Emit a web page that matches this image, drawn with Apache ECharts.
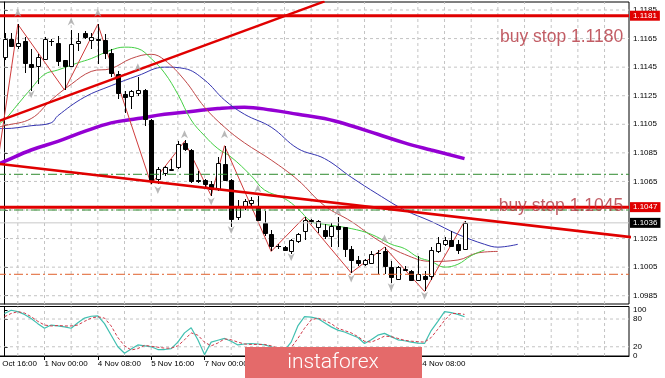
<!DOCTYPE html>
<html><head><meta charset="utf-8">
<script src="https://cdn.jsdelivr.net/npm/echarts@6/dist/echarts.min.js"></script>
<style>html,body{margin:0;padding:0;background:#fff;overflow:hidden}#c{position:absolute;left:-20px;top:0;width:685px;height:378px}</style>
</head><body><div id="c"></div>
<script>
// ---------- DATA ----------
const timeTicks  = [-2, 6, 14, 22, 30, 38, 46, 54, 62];
const timeLabels = ['30 Oct 16:00','1 Nov 00:00','4 Nov 08:00','5 Nov 16:00','7 Nov 00:00','8 Nov 08:00','11 Nov 16:00','13 Nov 00:00','14 Nov 08:00'];
const priceTicks = [1.0985,1.1005,1.1025,1.1045,1.1065,1.1085,1.1105,1.1125,1.1145,1.1165,1.1185];
const stochTicks = [0, 20, 80, 100];
const stochLevels = [20, 80];
const markPrices = [1.1181, 1.1047, 1.1036];

const opens  = [1.1152,1.1165,1.1160,1.1163,1.1147,1.1146,1.1151,1.1163,1.1162,1.1150,1.1146,1.1162,1.1169,1.1164,1.1165,1.1164,1.1155,1.1140,1.1126,1.1125,1.1127,1.1129,1.1108,1.1067,1.1071,1.1073,1.1075,1.1092,1.1087,1.1066,1.1066,1.1063,1.1060,1.1077,1.1066,1.1040,1.1047,1.1050,1.1048,1.1036,1.1028,1.1020,1.1019,1.1016,1.1023,1.1030,1.1038,1.1033,1.1031,1.1027,1.1034,1.1033,1.1018,1.1010,1.1007,1.1008,1.1015,1.1016,1.1005,1.0997,1.1004,1.1002,1.0996,1.0999,1.0999,1.1016,1.1021,1.1024,1.1021,1.1018];
const closes = [1.1165,1.1160,1.1162,1.1148,1.1145,1.1152,1.1165,1.1163,1.1149,1.1146,1.1161,1.1163,1.1166,1.1166,1.1164,1.1155,1.1141,1.1127,1.1124,1.1128,1.1129,1.1109,1.1066,1.1074,1.1075,1.1074,1.1091,1.1088,1.1065,1.1065,1.1063,1.1060,1.1078,1.1066,1.1039,1.1048,1.1051,1.1052,1.1038,1.1029,1.1020,1.1020,1.1017,1.1024,1.1028,1.1038,1.1037,1.1037,1.1027,1.1034,1.1032,1.1018,1.1010,1.1008,1.1010,1.1014,1.1015,1.1006,1.0998,1.1005,1.1003,1.0996,1.1000,1.0997,1.1017,1.1022,1.1024,1.1020,1.1017,1.1036];
const lows   = [1.1150,1.1159,1.1158,1.1141,1.1128,1.1133,1.1150,1.1160,1.1146,1.1129,1.1145,1.1156,1.1165,1.1158,1.1147,1.1151,1.1138,1.1123,1.1113,1.1116,1.1125,1.1104,1.1063,1.1063,1.1069,1.1072,1.1074,1.1086,1.1064,1.1064,1.1061,1.1055,1.1058,1.1065,1.1033,1.1038,1.1045,1.1048,1.1037,1.1027,1.1016,1.1018,1.1016,1.1014,1.1022,1.1024,1.1035,1.1029,1.1025,1.1019,1.1019,1.1012,1.1001,1.1006,1.1006,1.1007,1.1000,1.1000,1.0994,1.0996,1.1002,1.0995,1.0995,1.0988,1.0996,1.1015,1.1020,1.1019,1.1014,1.1017];
const highs  = [1.1169,1.1169,1.1175,1.1166,1.1158,1.1154,1.1166,1.1165,1.1167,1.1150,1.1171,1.1169,1.1170,1.1169,1.1175,1.1168,1.1158,1.1142,1.1128,1.1129,1.1138,1.1130,1.1109,1.1075,1.1076,1.1081,1.1093,1.1094,1.1088,1.1072,1.1067,1.1065,1.1082,1.1090,1.1067,1.1052,1.1053,1.1054,1.1055,1.1044,1.1031,1.1021,1.1020,1.1025,1.1029,1.1040,1.1039,1.1038,1.1035,1.1036,1.1040,1.1033,1.1020,1.1013,1.1011,1.1016,1.1017,1.1019,1.1009,1.1006,1.1006,1.1003,1.1013,1.1002,1.1019,1.1026,1.1026,1.1030,1.1024,1.1037];

const maPurple = [[-1,1.1077],[0,1.1079],[4,1.1087],[8,1.1093],[12,1.1100],[16,1.1106],[20,1.1109],[24,1.1112],[28,1.1114],[32,1.1116],[36,1.1117],[40,1.1115],[44,1.1112],[48,1.1109],[52,1.1104],[56,1.1098],[60,1.1092],[64,1.1087],[69,1.1081]];
const maBlue   = [[-1,1.1102],[0,1.1102],[4,1.1104],[7,1.1106],[8,1.1111],[12,1.1124],[16,1.1132],[20,1.1139],[24,1.1145],[27,1.1144],[30,1.1136],[33,1.1122],[36,1.1112],[40,1.1103],[44,1.1088],[48,1.1081],[52,1.1068],[56,1.1056],[60,1.1045],[64,1.1037],[68,1.1028],[72,1.1021],[74,1.1019],[77,1.1021]];
const maRed    = [[-1,1.1103],[0,1.1104],[4,1.1109],[7,1.1122],[10,1.1133],[13,1.1142],[16,1.1144],[19,1.1151],[22,1.1154],[24,1.1150],[27,1.1136],[30,1.1117],[33,1.1103],[36,1.1092],[40,1.1080],[44,1.1066],[48,1.1048],[52,1.1037],[56,1.1024],[60,1.1014],[64,1.1009],[68,1.1010],[71,1.1015],[74,1.1016]];
const maGreen  = [[-1,1.1105],[0,1.1108],[2,1.1119],[4,1.1130],[6,1.1140],[8,1.1143],[11,1.1148],[13,1.1151],[16,1.1157],[18,1.1159],[20,1.1158],[22,1.1151],[24,1.1141],[26,1.1126],[28,1.1108],[30,1.1097],[32,1.1088],[34,1.1082],[37,1.1069],[39,1.1059],[42,1.1053],[44,1.1046],[46,1.1037],[48,1.1035],[52,1.1032],[55,1.1028],[58,1.1021],[60,1.1018],[62,1.1012],[64,1.1009],[66,1.1005],[68,1.1007],[70,1.1013],[72,1.1017]];
const zigzag   = [[-1,1.1079],[2,1.1175],[9,1.1129],[14,1.1175],[22,1.1063],[27,1.1093],[31,1.1055],[33,1.1090],[40,1.1016],[45,1.1040],[52,1.1001],[57,1.1019],[63,1.0988],[69,1.1037]];
const fractalUp   = [[2,1.1183],[10,1.1177],[14,1.1183],[20,1.1145],[27,1.1098],[33,1.1098],[38,1.1060],[50,1.1044],[57,1.1025]];
const fractalDown = [[4,1.1126],[23,1.1059],[31,1.1051],[34,1.1031],[43,1.1012],[52,1.0997],[58,1.0991],[63,1.0985]];
const trendUp   = [[-1,1.1107],[48,1.1191]];
const trendDown = [[-1,1.10774],[94,1.1026]];
const levelRed    = [1.1181, 1.1047];
const levelGreen  = [1.1070, 1.1045];
const levelOrange = [1.1000];
const bidPrice    = 1.1036;
const orderTexts  = ['buy stop 1.1180', 'buy stop 1.1045'];
const orderAnchors = [[92.8,1.1166],[92.8,1.1048]];

const stochMain   = [92,99,96,90,81,70,60,67,65,63,60,72,82,86,87,70,45,20,6,15,24,22,20,14,14,16,30,50,61,35,3,30,34,38,32,24,26,27,26,24,20,15,12,30,65,85,84,81,72,63,56,52,46,40,27,35,45,49,42,35,33,30,28,27,55,75,96,94,90,85];
const stochSignal = [85,92,96,93,85,75,67,65,66,65,65,67,75,82,85,82,65,40,22,13,16,23,21,19,17,17,22,35,50,45,30,22,28,37,35,30,26,25,25,25,22,17,14,18,38,60,78,82,77,70,60,55,50,42,32,30,36,43,42,38,34,32,31,30,40,58,77,92,92,90];

// ---------- CHART ----------
const X_MIN = -3.675, X_MAX = 93.67;
const Y_MIN = 1.09792, Y_MAX = 1.11906;
const S_MIN = 0, S_MAX = 107.1;
const FONT = 'Liberation Sans, Arial, sans-serif';

const candleData = opens.map((o, i) => [i, o, closes[i], lows[i], highs[i]]);
const vGridVals = [];
for (let v = 2; v < X_MAX; v += 4) vGridVals.push(v);

function renderCandle(params, api) {
  const i = api.value(0), o = api.value(1), c = api.value(2), l = api.value(3), h = api.value(4);
  const pO = api.coord([i, o]), pC = api.coord([i, c]), pL = api.coord([i, l]), pH = api.coord([i, h]);
  const w = Math.round(api.size([1, 0])[0] * 0.6);
  const x = Math.round(pO[0]) + 0.5;
  const top = Math.round(Math.min(pO[1], pC[1])) + 0.5, bot = Math.round(Math.max(pO[1], pC[1])) + 0.5;
  const bull = c >= o;
  const children = [{type:'line', shape:{x1:x, y1:Math.round(pH[1]), x2:x, y2:Math.round(pL[1])}, style:{stroke:'#000', lineWidth:1}}];
  if (bot - top < 1) {
    children.push({type:'line', shape:{x1:x - w/2 - 0.5, y1:top, x2:x + w/2 + 0.5, y2:top}, style:{stroke:'#000', lineWidth:1}});
  } else {
    children.push({type:'rect', shape:{x:x - w/2, y:top, width:w, height:bot - top}, style:{fill: bull ? '#fff' : '#000', stroke:'#000', lineWidth:1}});
  }
  return {type:'group', children};
}

function priceBox(v) {
  for (let k = 0; k < markPrices.length; k++) {
    if (Math.abs(v - markPrices[k]) < 1e-6) return '{' + (k < 2 ? 'r' : 'k') + '|' + markPrices[k].toFixed(4) + '}';
  }
  return '';
}

function ln(xi, yi, data, style, z, smooth) {
  return {type:'line', xAxisIndex:xi, yAxisIndex:yi, data, showSymbol:false, silent:true, animation:false,
    smooth: smooth || false, z, lineStyle: style};
}
const gridStyle = {color:'#c4c4c4', type:[3,3], width:1};
const series = [];
// grid lines
vGridVals.forEach(v => {
  series.push(ln(0, 0, [[v, Y_MIN], [v, Y_MAX]], gridStyle, 1));
  series.push(ln(1, 2, [[v, S_MIN], [v, S_MAX]], gridStyle, 1));
});
priceTicks.forEach(v => series.push(ln(0, 0, [[X_MIN, v], [X_MAX, v]], gridStyle, 1)));
stochLevels.forEach(v => series.push(ln(1, 2, [[X_MIN, v], [X_MAX, v]], gridStyle, 1)));
// moving averages
series.push(ln(0, 0, maPurple, {color:'#9400d3', width:3.5}, 2, 0.4));
series.push(ln(0, 0, maBlue,   {color:'#3434b0', width:1}, 2, 0.4));
series.push(ln(0, 0, maRed,    {color:'#c04848', width:1}, 2, 0.4));
series.push(ln(0, 0, maGreen,  {color:'#44d044', width:1}, 2, 0.4));
// zigzag
series.push(ln(0, 0, zigzag, {color:'#d03c3c', width:1}, 3));
// candles
series.push({type:'custom', xAxisIndex:0, yAxisIndex:0, data:candleData, renderItem:renderCandle, z:4, silent:true,
  encode:{x:0, y:[1,2,3,4]}});
// horizontal levels
series.push(ln(0, 0, [[X_MIN, bidPrice], [X_MAX, bidPrice]], {color:'#c8c8c8', width:1}, 5));
levelGreen.forEach(v => series.push(ln(0, 0, [[X_MIN, v], [X_MAX, v]], {color:'#2f8a2f', width:1, type:[9,3,2,3]}, 5)));
levelOrange.forEach(v => series.push(ln(0, 0, [[X_MIN, v], [X_MAX, v]], {color:'#e0602c', width:1, type:[9,3,2,3]}, 5)));
levelRed.forEach(v => series.push(ln(0, 0, [[X_MIN, v], [X_MAX, v]], {color:'#e00000', width:3}, 5)));
// trend lines
series.push(ln(0, 0, trendUp,   {color:'#e00000', width:2.5}, 5));
series.push(ln(0, 0, trendDown, {color:'#e00000', width:2.5}, 5));
// fractals
series.push({type:'scatter', xAxisIndex:0, yAxisIndex:0, data:fractalUp, z:6, silent:true,
  symbol:'path://M5,0 L10,10 L5,7 L0,10 Z', symbolSize:[7,8], itemStyle:{color:'#a8a8a8'}});
series.push({type:'scatter', xAxisIndex:0, yAxisIndex:0, data:fractalDown, z:6, silent:true,
  symbol:'path://M5,0 L10,10 L5,7 L0,10 Z', symbolRotate:180, symbolSize:[7,8], itemStyle:{color:'#a8a8a8'}});
// order texts
series.push({type:'scatter', xAxisIndex:0, yAxisIndex:0, z:7, silent:true, symbolSize:1, itemStyle:{color:'rgba(0,0,0,0)'},
  data: orderAnchors.map((p, k) => ({value:p, name:orderTexts[k]})),
  label:{show:true, position:'inside', align:'right', verticalAlign:'middle', formatter: p => p.name,
    color:'#b3343f', fontSize:17.5, fontFamily:FONT}});
// stochastic
series.push(ln(1, 2, stochMain.map((v,i)=>[i,v]),   {color:'#40bfb0', width:1.2}, 3));
series.push(ln(1, 2, stochSignal.map((v,i)=>[i,v]), {color:'#d03a4a', width:1, type:[3,2]}, 3));

const option = {
  animation: false,
  backgroundColor: '#fff',
  grid: [
    {left:0, top:2, width:649, height:302, show:true, borderColor:'#000', borderWidth:1, backgroundColor:'#fff'},
    {left:0, top:306.5, width:649, height:49.5, show:true, borderColor:'#000', borderWidth:1, backgroundColor:'#fff'}
  ],
  xAxis: [
    {type:'value', gridIndex:0, min:X_MIN, max:X_MAX, show:false},
    {type:'value', gridIndex:1, min:X_MIN, max:X_MAX, position:'bottom',
      axisLine:{show:true, lineStyle:{color:'#000'}},
      axisTick:{show:true, customValues:timeTicks, length:4, lineStyle:{color:'#000'}},
      axisLabel:{customValues:timeTicks, align:'left', margin:4, fontSize:8, color:'#000', fontFamily:FONT,
        formatter: v => timeLabels[timeTicks.indexOf(Math.round(v))] || ''},
      splitLine:{show:false}}
  ],
  yAxis: [
    {type:'value', gridIndex:0, min:Y_MIN, max:Y_MAX, position:'right',
      axisLine:{show:true, lineStyle:{color:'#000'}},
      axisTick:{show:true, customValues:priceTicks, length:3, lineStyle:{color:'#000'}},
      axisLabel:{customValues:priceTicks, margin:4, fontSize:8, color:'#000', fontFamily:FONT, formatter: v => v.toFixed(4)},
      splitLine:{show:false}},
    {type:'value', gridIndex:0, min:Y_MIN, max:Y_MAX, position:'right',
      axisLine:{show:false}, axisTick:{show:false}, splitLine:{show:false},
      axisLabel:{customValues:markPrices, margin:1, formatter: priceBox,
        rich:{
          r:{backgroundColor:'#e00000', color:'#fff', fontSize:8, fontFamily:FONT, padding:[1,3,1,3]},
          k:{backgroundColor:'#000', color:'#fff', fontSize:8, fontFamily:FONT, padding:[1,3,1,3]}
        }}},
    {type:'value', gridIndex:1, min:S_MIN, max:S_MAX, position:'right',
      axisLine:{show:true, lineStyle:{color:'#000'}},
      axisTick:{show:true, customValues:stochTicks, length:3, lineStyle:{color:'#000'}},
      axisLabel:{customValues:stochTicks, margin:4, fontSize:8, color:'#000', fontFamily:FONT},
      splitLine:{show:false}}
  ],
  series,
  graphic: [
    {type:'rect', left:265, top:347, shape:{width:177, height:31}, style:{fill:'#e46a6a'}, z:100, silent:true},
    {type:'text', x:353, y:362.5, z:101, silent:true,
      style:{text:'instaforex', fill:'#fff', fontSize:21, fontFamily:'Roboto, sans-serif', fontWeight:300, align:'center', verticalAlign:'middle'}}
  ]
};
const chart = echarts.init(document.getElementById('c'), null, {renderer:'canvas'});
chart.setOption(option);
</script></body></html>
